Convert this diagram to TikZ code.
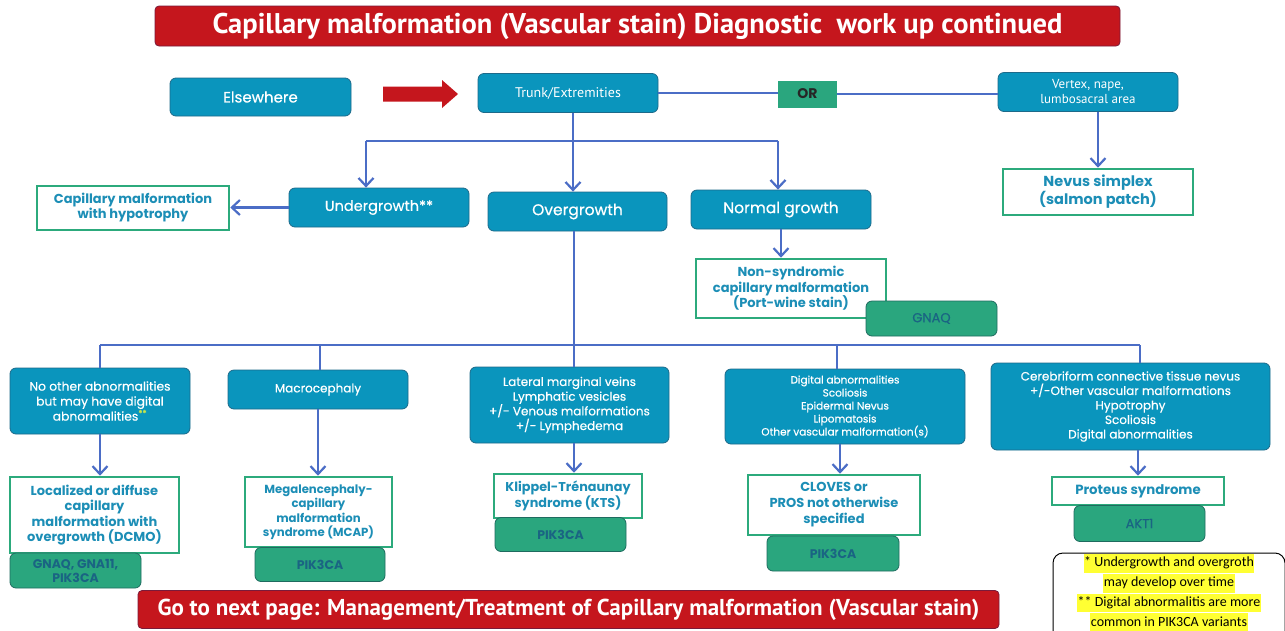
\documentclass[tikz,border=0pt]{standalone}
\usepackage{fontspec}
\setmainfont{Poppins}
\newfontfamily\bodyfont{Poppins}[FakeBold=0.5]
\newfontfamily\condfont{PT Sans}
\newfontfamily\notefont{Carlito}
\usetikzlibrary{arrows.meta}

\definecolor{boxteal}{HTML}{0A95BD}
\definecolor{boxtealdark}{HTML}{1D6A8A}
\definecolor{genegreen}{HTML}{2AA67E}
\definecolor{genedark}{HTML}{1F6B5F}
\definecolor{genetext}{HTML}{1A6483}
\definecolor{outgreen}{HTML}{2CAA7C}
\definecolor{outtext}{HTML}{1C8EB6}
\definecolor{bannerred}{HTML}{C5161D}
\definecolor{bannerdark}{HTML}{7A1B3A}
\definecolor{linkblue}{HTML}{4B6DC6}
\definecolor{starlime}{HTML}{C8E64C}
\definecolor{notehl}{HTML}{FFFF33}

\newcommand\fs[2]{\fontsize{#1}{#2}\selectfont}
\newcommand\hlt[1]{{\setlength{\fboxsep}{0.6pt}\colorbox{notehl}{\strut #1}}}

\tikzset{
  base/.style={rectangle, align=center, inner sep=1pt},
  qbox/.style={base, rounded corners=6pt, fill=boxteal, draw=boxtealdark, line width=0.8pt, text=white},
  rbox/.style={base, fill=white, draw=outgreen, line width=2.6pt, text=outtext},
  gbox/.style={base, rounded corners=6pt, fill=genegreen, draw=genedark, line width=0.8pt, text=genetext,
               font=\bfseries\fs{12.5}{14}},
  banner/.style={base, rounded corners=4pt, fill=bannerred, draw=bannerdark, line width=0.8pt, text=white},
  conn/.style={draw=linkblue, line width=2.2pt},
  arr/.style={conn, -{Straight Barb[length=8pt, width=15pt]}},
}

\begin{document}
\begin{tikzpicture}[x=1pt, y=-1pt]
\useasboundingbox (0,0) rectangle (1285,630);
\fill[white] (0,0) rectangle (1285,630);

% headings
\node[banner, minimum width=965, minimum height=40, font=\condfont\bfseries\fs{28.5}{30}] (title) at (637.5,26)
  {Capillary malformation (Vascular stain) Diagnostic\ \ work up continued};
\node[banner, minimum width=861, minimum height=38, font=\condfont\bfseries\fs{23}{26}] (nextpage) at (568.5,609.5)
  {Go to next page: Management/Treatment of Capillary malformation (Vascular stain)};

% location row
\node[qbox, minimum width=181, minimum height=38, font=\bodyfont\fs{15}{16}] (elsewhere) at (260.5,97) {Elsewhere};
\fill[bannerred] (383,86.5) -- (442,86.5) -- (442,80) -- (458,94) -- (442,108) -- (442,101.5) -- (383,101.5) -- cycle;
\node[qbox, minimum width=180, minimum height=39, font=\condfont\fs{14}{15}] (trunk) at (568,93) {Trunk/Extremities};
\node[base, minimum width=59, minimum height=27, fill=genegreen, text=black!85, font=\bfseries\fs{14}{16}] (orbox) at (807.5,94) {OR};
\node[qbox, minimum width=180, minimum height=39, font=\condfont\fs{13}{15}] (vertex) at (1088,92)
  {Vertex, nape,\\lumbosacral area};
\node[rbox, minimum width=190, minimum height=46, font=\bfseries\fs{14.5}{17}] (nevus) at (1098,192)
  {Nevus simplex\\(salmon patch)};

% growth row
\node[qbox, minimum width=180, minimum height=39, font=\bodyfont\fs{14.5}{16}] (under) at (379,207.5) {Undergrowth**};
\node[rbox, minimum width=192, minimum height=44, font=\bfseries\fs{13}{15}] (hypo) at (133,208)
  {Capillary malformation\\with hypotrophy};
\node[qbox, minimum width=179, minimum height=39, font=\bodyfont\fs{15.5}{17}] (over) at (577.5,211.5) {Overgrowth};
\node[qbox, minimum width=180, minimum height=39, font=\bodyfont\fs{15.5}{17}] (normal) at (781,209.5) {Normal growth};
\node[rbox, minimum width=190, minimum height=59, font=\bfseries\fs{13}{15.5}] (nonsyn) at (791,288.5)
  {Non-syndromic\\capillary malformation\\(Port-wine stain)};
\node[gbox, minimum width=131, minimum height=35, font=\bodyfont\fs{13}{14}] (gnaq) at (931.5,318.5) {GNAQ};

% findings row
\node[qbox, minimum width=180, minimum height=66, font=\bodyfont\fs{12.3}{15}] (noother) at (100,401)
  {No other abnormalities\\but may have digital\\abnormalities\textcolor{starlime}{\textsuperscript{**}}};
\node[qbox, minimum width=180, minimum height=39, font=\bodyfont\fs{12}{15}] (macro) at (318,389.5) {Macrocephaly};
\node[qbox, minimum width=199, minimum height=76, font=\bodyfont\fs{12}{14.7}] (lateral) at (569.5,405)
  {Lateral marginal veins\\Lymphatic vesicles\\+/- Venous malformations\\+/- Lymphedema};
\node[qbox, minimum width=240, minimum height=75, font=\bodyfont\fs{10.5}{13}] (digital) at (845,406.5)
  {Digital abnormalities\\Scoliosis\\Epidermal Nevus\\Lipomatosis\\Other vascular malformation(s)};
\node[qbox, minimum width=279, minimum height=87, font=\bodyfont\fs{12}{14.5}] (cerebri) at (1130.5,406.5)
  {Cerebriform connective tissue nevus\\+/-Other vascular malformations\\Hypotrophy\\Scoliosis\\Digital abnormalities};

% diagnoses and genes
\node[rbox, minimum width=169, minimum height=76, font=\bfseries\fs{13}{15.5}] (local) at (94.5,515)
  {Localized or diffuse\\capillary\\malformation with\\overgrowth (DCMO)};
\node[gbox, minimum width=131, minimum height=35, font=\bfseries\fs{12.5}{14}] (gene1) at (75.5,570.5) {GNAQ, GNA11,\\PIK3CA};
\node[rbox, minimum width=147, minimum height=70, font=\bfseries\fs{11.7}{14.5}] (mega) at (318.5,512)
  {Megalencephaly-\\capillary\\malformation\\syndrome (MCAP)};
\node[gbox, minimum width=130, minimum height=34] (gene2) at (320,564.5) {PIK3CA};
\node[rbox, minimum width=148, minimum height=44, font=\bfseries\fs{12.8}{15}] (klippel) at (568,496)
  {Klippel-Trénaunay\\syndrome (KTS)};
\node[gbox, minimum width=131, minimum height=34] (gene3) at (560.5,534.5) {PIK3CA};
\node[rbox, minimum width=172, minimum height=60, font=\bfseries\fs{13}{16}] (cloves) at (834,505)
  {CLOVES or\\PROS not otherwise\\specified};
\node[gbox, minimum width=132, minimum height=35] (gene4) at (833,553.5) {PIK3CA};
\node[rbox, minimum width=172, minimum height=28, font=\bfseries\fs{13.3}{15}] (proteus) at (1138,491) {Proteus syndrome};
\node[gbox, minimum width=131, minimum height=36, font=\bodyfont\fs{13}{14}] (akt) at (1139.5,523.5) {AKT1};

% footnote box
\node[base, rounded corners=10pt, draw=black, line width=1pt, fill=white, minimum width=232, minimum height=90] (notebox) at (1169,598) {};
\node[base, font=\notefont\fs{14}{17.5}] (notes) at (1169,593)
  {\hlt{* Undergrowth and overgroth}\\\hlt{may develop over time}\\\hlt{** Digital abnormalitis are more}\\\hlt{common in PIK3CA variants}};

% connectors
\coordinate (tx) at (573,0);
\coordinate (splitL) at (366,141);
\coordinate (splitR) at (778,141);
\coordinate (d1) at (100,345);
\coordinate (d2) at (320,345);
\coordinate (d3) at (574,345);
\coordinate (d4) at (837,345);
\coordinate (d5) at (1140,345);
\coordinate (dx) at (840,0);

\draw[conn] (trunk.east) -- (trunk.east -| orbox.west);
\draw[conn] (orbox.east) -- (orbox.east -| vertex.west);
\draw[arr] (nevus.north |- vertex.south) -- (nevus.north);

\draw[arr] (trunk.south -| tx) -- (over.north -| tx);
\draw[conn] (splitL) -- (splitR);
\draw[arr] (splitL) -- (splitL |- under.north);
\draw[arr] (splitR) -- (splitR |- normal.north);
\draw[arr] (under.west) -- (hypo.east |- under.west);
\draw[arr] (normal.south) -- (normal.south |- nonsyn.north);

\draw[conn] (over.south -| d3) -- (d3);
\draw[conn] (d1) -- (d5);
\draw[conn] (d1) -- (d1 |- noother.north);
\draw[conn] (d2) -- (d2 |- macro.north);
\draw[conn] (d3) -- (d3 |- lateral.north);
\draw[conn] (d4) -- (d4 |- digital.north);
\draw[conn] (d5) -- (d5 |- cerebri.north);

\draw[arr] (noother.south) -- (noother.south |- local.north);
\draw[arr] (macro.south) -- (macro.south |- mega.north);
\draw[arr] (lateral.south -| d3) -- (klippel.north -| d3);
\draw[arr] (digital.south -| dx) -- (cloves.north -| dx);
\draw[arr] (proteus.north |- cerebri.south) -- (proteus.north);
\end{tikzpicture}
\end{document}
